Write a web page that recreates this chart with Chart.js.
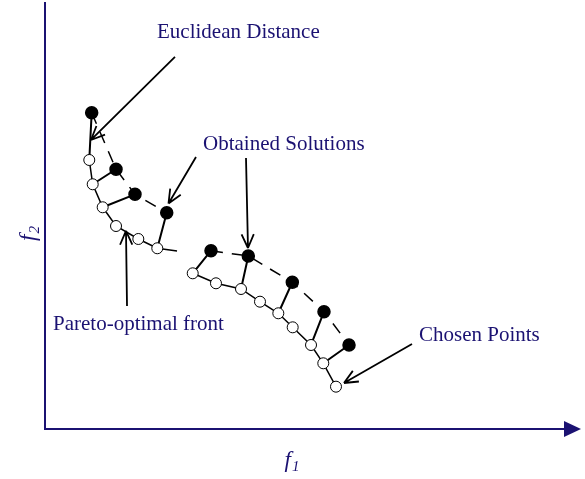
<!DOCTYPE html>
<html lang="en">
<head>
  <meta charset="UTF-8"/>
  <title>Pareto-optimal front</title>
  <script src="https://cdn.jsdelivr.net/npm/chart.js"></script>
  <style>
    body {
      margin: 0;
      background: #fff;
    }

    .wrap {
      width: 585px;
      height: 479px;
    }
  </style>
</head>
<body>

  <div class="wrap"><canvas id="frontChart"></canvas></div>

  <script>
    // Pareto-optimal front, left piece (last point is where the curve trails off)
    const frontLeftF1 = [8.26, 8.90, 10.76, 13.25, 17.41, 20.95, 24.63];
    const frontLeftF2 = [50.40, 45.85, 41.54, 38.03, 35.60, 33.86, 33.35];

    // Pareto-optimal front, right piece
    const frontRightF1 = [27.56, 31.90, 36.57, 40.11, 43.53, 46.21, 49.63, 51.92, 54.29];
    const frontRightF2 = [29.17, 27.30, 26.23, 23.85, 21.68, 19.05, 15.74, 12.31, 7.93];

    // obtained solutions
    const obtainedLeftF1 = [8.71, 13.25, 16.79, 22.71];
    const obtainedLeftF2 = [59.26, 48.66, 43.97, 40.52];
    const obtainedRightF1 = [30.97, 37.93, 46.14, 52.05, 56.72];
    const obtainedRightF2 = [33.40, 32.41, 27.49, 21.98, 15.74];

    // index of the chosen front point for each obtained solution
    const chosenLeft = [0, 1, 2, 5];
    const chosenRight = [0, 2, 4, 6, 7];

    // callout arrows: [f1 start, f2 start, f1 tip, f2 tip]
    const arrows = [
      [24.25, 69.70, 8.58, 54.15],
      [28.17, 50.96, 23.04, 42.25],
      [37.50, 50.77, 37.87, 33.91],
      [15.30, 23.04, 15.11, 37.10],
      [68.47, 15.93, 55.78, 8.62]
    ];

    const notes = [
      ['Euclidean Distance', 20.90, 73.26],
      ['Obtained Solutions', 29.48, 52.27],
      ['Pareto-optimal front', 1.49, 18.55],
      ['Chosen Points', 69.78, 16.49]
    ];

    const NAVY = '#1b1272';

    const pts = (xs, ys) => xs.map((x, i) => ({ x, y: ys[i] }));

    // short segments from each solution down to its front point
    function links(fx, fy, ox, oy, idx) {
      const out = [];
      idx.forEach((j, i) => {
        out.push({ x: fx[i], y: fy[i] }, { x: ox[j], y: oy[j] }, { x: ox[j], y: null });
      });
      return out;
    }

    const overlay = {
      id: 'overlay',
      afterDatasetsDraw(chart) {
        const { ctx, chartArea: a, scales: { x, y } } = chart;
        ctx.save();

        // axes
        ctx.strokeStyle = NAVY;
        ctx.lineWidth = 2;
        ctx.beginPath();
        ctx.moveTo(a.left, a.top);
        ctx.lineTo(a.left, a.bottom);
        ctx.lineTo(a.right - 14, a.bottom);
        ctx.stroke();
        ctx.fillStyle = NAVY;
        ctx.beginPath();
        ctx.moveTo(a.right - 17, a.bottom - 8);
        ctx.lineTo(a.right, a.bottom);
        ctx.lineTo(a.right - 17, a.bottom + 8);
        ctx.closePath();
        ctx.fill();

        // arrows
        ctx.strokeStyle = '#000';
        ctx.lineWidth = 1.8;
        arrows.forEach(([x0, y0, x1, y1]) => {
          const sx = x.getPixelForValue(x0), sy = y.getPixelForValue(y0);
          const tx = x.getPixelForValue(x1), ty = y.getPixelForValue(y1);
          const ang = Math.atan2(ty - sy, tx - sx);
          ctx.beginPath();
          ctx.moveTo(sx, sy);
          ctx.lineTo(tx, ty);
          [-0.42, 0.42].forEach(d => {
            ctx.moveTo(tx, ty);
            ctx.lineTo(tx - 15 * Math.cos(ang + d), ty - 15 * Math.sin(ang + d));
          });
          ctx.stroke();
        });

        // labels
        ctx.fillStyle = NAVY;
        ctx.font = '21px "Liberation Serif"';
        ctx.textBaseline = 'alphabetic';
        notes.forEach(([t, nx, ny]) => {
          ctx.fillText(t, x.getPixelForValue(nx), y.getPixelForValue(ny));
        });

        // axis names
        const axisName = (sub) => {
          ctx.font = 'italic 23px "Liberation Serif"';
          const w = ctx.measureText('f').width;
          ctx.font = 'italic 15px "Liberation Serif"';
          const ws = ctx.measureText(sub).width;
          const x0 = -(w + ws + 1) / 2;
          ctx.font = 'italic 23px "Liberation Serif"';
          ctx.fillText('f', x0, 0);
          ctx.font = 'italic 15px "Liberation Serif"';
          ctx.fillText(sub, x0 + w + 1, 4);
        };
        ctx.save();
        ctx.translate((a.left + a.right) / 2 - 21, a.bottom + 38);
        axisName('1');
        ctx.restore();
        ctx.save();
        ctx.translate(a.left - 10, (a.top + a.bottom) / 2 + 18);
        ctx.rotate(-Math.PI / 2);
        axisName('2');
        ctx.restore();

        ctx.restore();
      }
    };

    const openPoint = {
      showLine: true,
      borderColor: '#000',
      borderWidth: 1.5,
      pointBackgroundColor: '#fff',
      pointBorderColor: '#000',
      pointBorderWidth: 1,
      pointRadius: 5.5,
      order: 0
    };

    const solidPoint = {
      showLine: true,
      borderColor: '#000',
      borderWidth: 1.5,
      borderDash: [12, 9],
      pointBackgroundColor: '#000',
      pointBorderColor: '#000',
      pointRadius: 6,
      order: 1
    };

    new Chart(document.getElementById('frontChart'), {
      type: 'scatter',
      data: {
        datasets: [
          Object.assign({}, openPoint, {
            label: 'Pareto-optimal front',
            data: pts(frontLeftF1, frontLeftF2),
            pointRadius: c => c.dataIndex < frontLeftF1.length - 1 ? 5.5 : 0
          }),
          Object.assign({}, openPoint, {
            label: 'Pareto-optimal front',
            data: pts(frontRightF1, frontRightF2)
          }),
          Object.assign({}, solidPoint, {
            label: 'Obtained Solutions',
            data: pts(obtainedLeftF1, obtainedLeftF2)
          }),
          Object.assign({}, solidPoint, {
            label: 'Obtained Solutions',
            data: pts(obtainedRightF1, obtainedRightF2)
          }),
          {
            label: 'Euclidean Distance',
            data: links(obtainedLeftF1, obtainedLeftF2, frontLeftF1, frontLeftF2, chosenLeft)
              .concat(links(obtainedRightF1, obtainedRightF2, frontRightF1, frontRightF2, chosenRight)),
            showLine: true,
            spanGaps: false,
            borderColor: '#000',
            borderWidth: 2,
            pointRadius: 0,
            order: 2
          }
        ]
      },
      options: {
        responsive: true,
        maintainAspectRatio: false,
        animation: false,
        layout: { autoPadding: false, padding: { left: 45, top: 2, right: 4, bottom: 50 } },
        plugins: {
          legend: { display: false },
          tooltip: { enabled: false }
        },
        scales: {
          x: { display: false, min: 0, max: 100 },
          y: { display: false, min: 0, max: 80 }
        }
      },
      plugins: [overlay]
    });
  </script>
</body>
</html>
